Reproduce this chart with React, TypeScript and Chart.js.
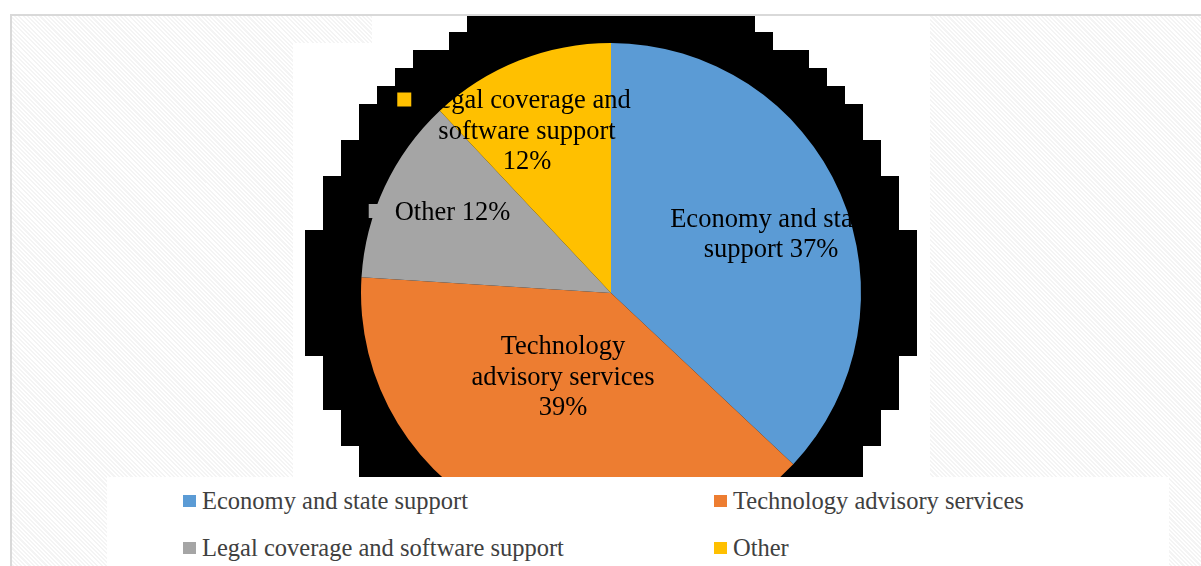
import React, { useEffect, useRef } from "react";
import { Chart, registerables } from "chart.js";

Chart.register(...registerables);

// ---- data ----
const categories = [
  "Economy and state support",
  "Technology advisory services",
  "Legal coverage and software support",
  "Other",
];
const shares = [37, 39, 12, 12];
const sliceColors = ["#5B9BD5", "#ED7D31", "#A5A5A5", "#FFC000"];
// text printed inside each slice, as in the source figure
const sliceLabelNames = [
  "Economy and state\nsupport",
  "Technology\nadvisory services",
  "Other",
  "Legal coverage and\nsoftware support",
];
const sliceLabelHasKey = [false, false, true, true];

// ---- layout / style (not data) ----
const W = 1201;
const H = 566;
const LEGEND_TOP = 477;
const labelAnchors: [number, number][] = [
  [0.64, -0.232],
  [-0.192, 0.34],
  [-0.634, -0.32],
  [-0.336, -0.644],
];
const LABEL_FONT = '26.5px "Liberation Serif", "Times New Roman", serif';
const LABEL_LINE = 30.5;
const LABEL_MAX_W = 225;

const stepRingPlugin = {
  id: "stepRing",
  beforeDatasetsDraw(chart: any) {
    const meta = chart.getDatasetMeta(0);
    if (!meta.data.length) return;
    const { x, y, outerRadius } = meta.data[0] as any;
    const ctx = chart.ctx;
    const Rb = outerRadius * 1.215;
    const step = 18;
    ctx.save();
    ctx.beginPath();
    ctx.rect(0, 16, chart.width, LEGEND_TOP - 16);
    ctx.clip();
    ctx.fillStyle = "#000000";
    for (let top = 14; top < LEGEND_TOP; top += step) {
      const dy = top + step / 2 - y;
      if (Math.abs(dy) >= Rb) continue;
      let hw = Math.sqrt(Rb * Rb - dy * dy);
      hw = Math.round(hw / step) * step;
      ctx.fillRect(x - hw, top, 2 * hw, step);
    }
    ctx.restore();
  },
};

const sliceLabelPlugin = {
  id: "sliceLabels",
  afterDatasetsDraw(chart: any) {
    const meta = chart.getDatasetMeta(0);
    const ctx = chart.ctx;
    const total = shares.reduce((a, b) => a + b, 0);
    ctx.save();
    ctx.font = LABEL_FONT;
    ctx.textAlign = "center";
    ctx.textBaseline = "middle";
    meta.data.forEach((arc: any, i: number) => {
      const { x, y, outerRadius } = arc;
      const px = x + labelAnchors[i][0] * outerRadius;
      const py = y + labelAnchors[i][1] * outerRadius;
      const pct = Math.round((shares[i] / total) * 100) + "%";
      const lines = sliceLabelNames[i].split("\n");
      const joined = lines[lines.length - 1] + " " + pct;
      if (ctx.measureText(joined).width <= LABEL_MAX_W) lines[lines.length - 1] = joined;
      else lines.push(pct);
      const startY = py - ((lines.length - 1) * LABEL_LINE) / 2;
      if (sliceLabelHasKey[i]) {
        const w0 = ctx.measureText(lines[0]).width;
        const keyRight = px - w0 / 2 - 12;
        ctx.fillStyle = sliceColors[i];
        ctx.fillRect(keyRight - 14, startY - 9, 14, 14);
      }
      ctx.fillStyle = "#000000";
      lines.forEach((ln, k) => ctx.fillText(ln, px, startY + k * LABEL_LINE));
    });
    ctx.restore();
  },
};

const hatch =
  "repeating-linear-gradient(45deg, #f4f4f4 0px, #f4f4f4 1.5px, #ffffff 1.5px, #ffffff 3px)";

export default function App() {
  const canvasRef = useRef<HTMLCanvasElement>(null);

  useEffect(() => {
    const chart = new Chart(canvasRef.current as HTMLCanvasElement, {
      type: "pie",
      data: {
        labels: categories,
        datasets: [
          {
            data: shares,
            backgroundColor: sliceColors,
            borderWidth: 0,
            hoverOffset: 0,
          },
        ],
      },
      options: {
        responsive: false,
        animation: false,
        devicePixelRatio: 1,
        events: [],
        layout: { padding: { left: 361, right: 340, top: 43, bottom: 23 } },
        plugins: {
          legend: { display: false },
          tooltip: { enabled: false },
        },
      },
      plugins: [stepRingPlugin, sliceLabelPlugin],
    } as any);
    return () => chart.destroy();
  }, []);

  const legendCols = [183, 714];
  const legendRows = [501, 547.5];

  return (
    <div
      style={{
        position: "fixed",
        left: 0,
        top: 0,
        width: W,
        height: H,
        overflow: "hidden",
        background: "#ffffff",
      }}
    >
      <div
        style={{
          position: "absolute",
          left: 10,
          top: 14,
          width: W - 10,
          height: H - 14,
          boxSizing: "border-box",
          borderTop: "2px solid #d9d9d9",
          borderLeft: "2px solid #d9d9d9",
          backgroundImage: hatch,
        }}
      />
      <div style={{ position: "absolute", left: 372, top: 16, width: 558, height: 27, background: "#fff" }} />
      <div style={{ position: "absolute", left: 293, top: 43, width: 637, height: LEGEND_TOP - 43, background: "#fff" }} />
      <canvas
        ref={canvasRef}
        width={W}
        height={H}
        style={{ position: "absolute", left: 0, top: 0, width: W, height: H, zIndex: 1 }}
      />
      <div
        style={{
          position: "absolute",
          left: 107,
          top: LEGEND_TOP,
          width: 1062,
          height: H - LEGEND_TOP,
          background: "#ffffff",
          zIndex: 2,
        }}
      />
      {categories.map((c, i) => {
        const col = legendCols[i % 2];
        const row = legendRows[Math.floor(i / 2)];
        return (
          <div
            key={c}
            style={{
              position: "absolute",
              left: col,
              top: row - 16,
              height: 32,
              display: "flex",
              alignItems: "center",
              zIndex: 3,
              whiteSpace: "nowrap",
              fontFamily: '"Liberation Serif", "Times New Roman", serif',
              fontSize: 24.5,
              color: "#404040",
            }}
          >
            <span style={{ display: "inline-block", width: 13, height: 12, background: sliceColors[i], marginRight: 6 }} />
            <span>{c}</span>
          </div>
        );
      })}
    </div>
  );
}
